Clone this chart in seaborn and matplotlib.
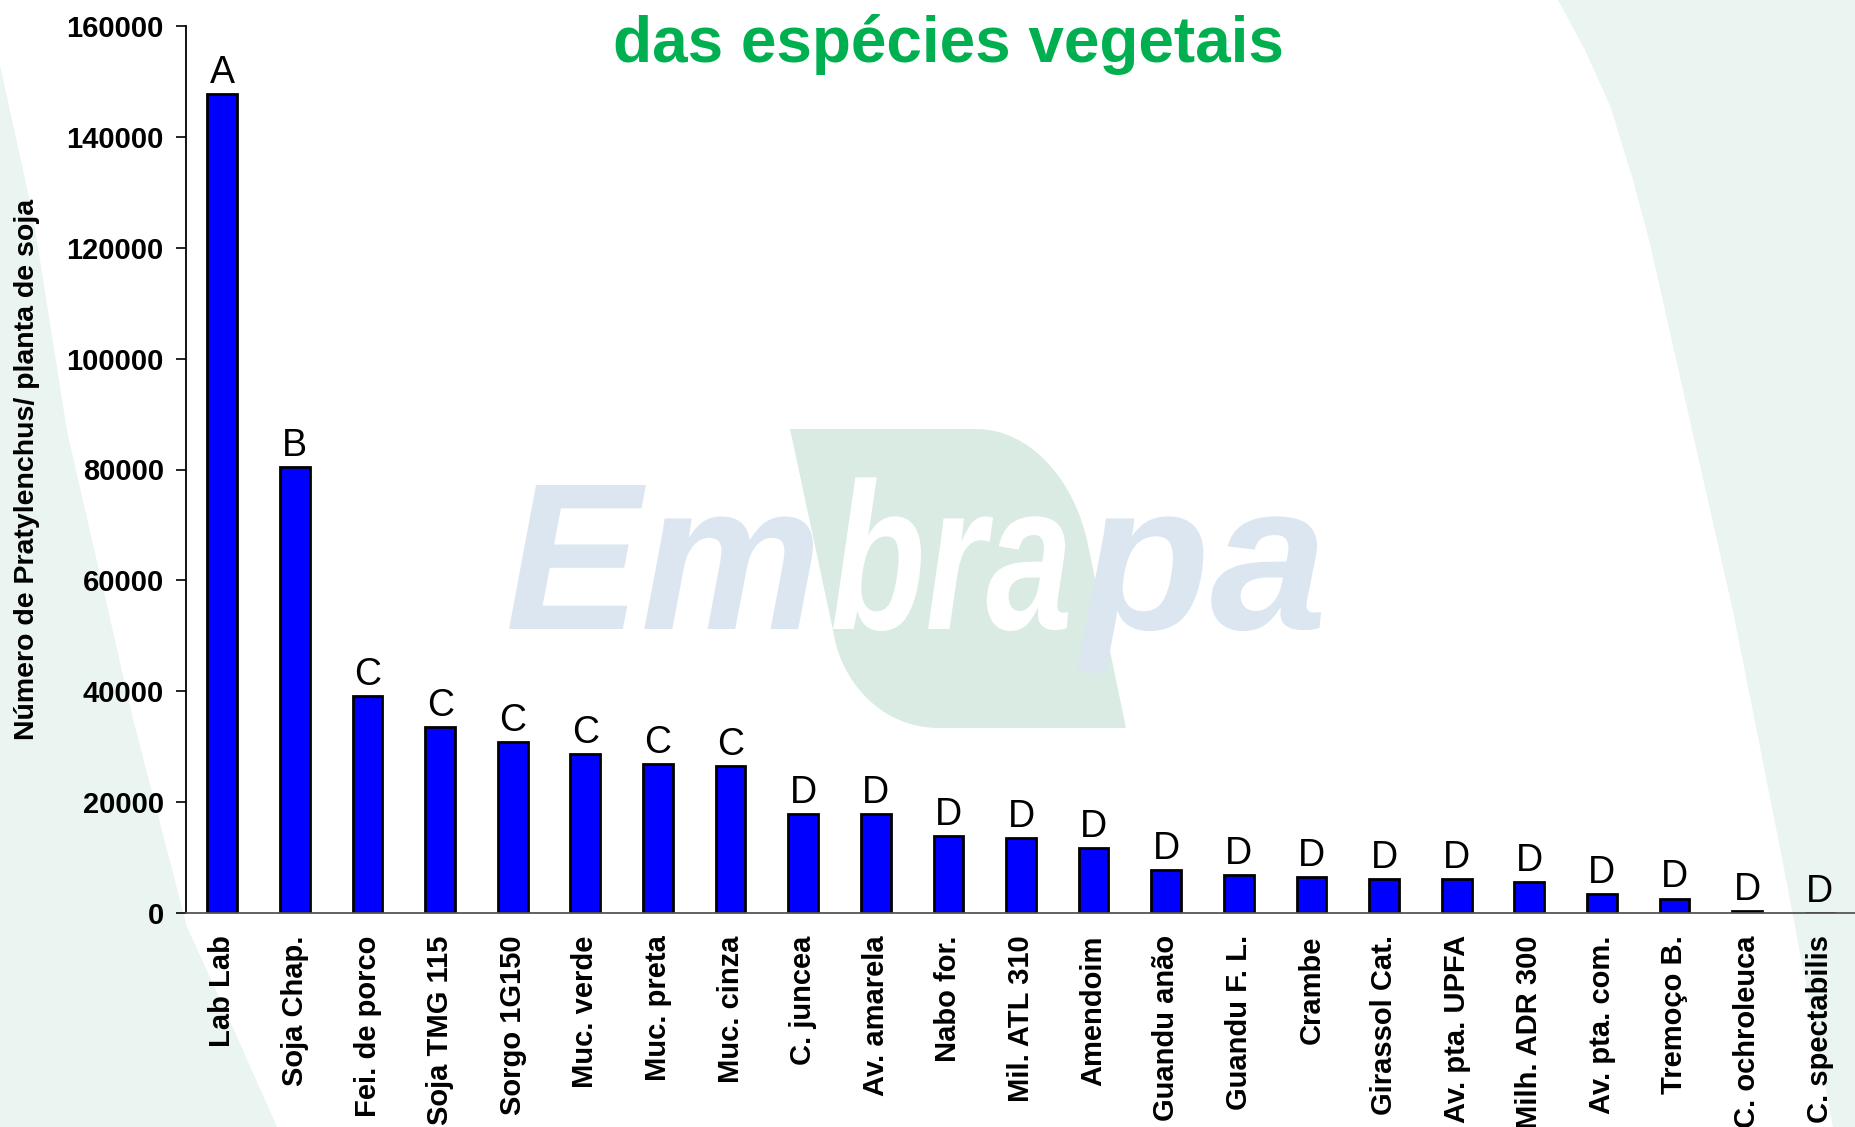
import numpy as np
import matplotlib
matplotlib.use("Agg")
import matplotlib.pyplot as plt
from matplotlib.path import Path
from matplotlib.patches import PathPatch, Polygon
from matplotlib.textpath import TextPath
from matplotlib.font_manager import FontProperties
from matplotlib.transforms import Affine2D
import seaborn as sns

# data
species = ["Lab Lab", "Soja Chap.", "Fei. de porco", "Soja TMG 115", "Sorgo 1G150",
           "Muc. verde", "Muc. preta", "Muc. cinza", "C. juncea", "Av. amarela",
           "Nabo for.", "Mil. ATL 310", "Amendoim", "Guandu anão", "Guandu F. L.",
           "Crambe", "Girassol Cat.", "Av. pta. UPFA", "Milh. ADR 300", "Av. pta. com.",
           "Tremoço B.", "C. ochroleuca", "C. spectabilis"]
values = [147800, 80400, 39100, 33500, 30800, 28700, 26900, 26500, 17800, 17800,
          13900, 13500, 11700, 7800, 6900, 6500, 6100, 6100, 5600, 3400,
          2600, 400, 0]
letters = ["A", "B", "C", "C", "C", "C", "C", "C", "D", "D",
           "D", "D", "D", "D", "D", "D", "D", "D", "D", "D",
           "D", "D", "D"]
yticks = [0, 20000, 40000, 60000, 80000, 100000, 120000, 140000, 160000]

title = "das espécies vegetais"
ylabel = "Número de Pratylenchus/ planta de soja"

sns.set_style("white")
plt.rcParams['font.family'] = ['Liberation Sans', 'DejaVu Sans']
plt.rcParams.update({"text.color": "black", "axes.labelcolor": "black",
                     "xtick.color": "black", "ytick.color": "black"})

W, H = 1856, 1127
fig = plt.figure(figsize=(W / 100, H / 100), dpi=100, facecolor="white")

# background decoration, drawn in pixel coordinates (y down)
bg = fig.add_axes([0, 0, 1, 1], zorder=0)
bg.set_xlim(0, W)
bg.set_ylim(H, 0)
bg.axis("off")

pale = "#EAF4F0"
left_edge = [(0, 65), (33, 216), (67, 431), (133, 719), (187, 927), (233, 1028), (277, 1127), (0, 1127)]
right_edge = [(1558, 0), (1585, 50), (1611, 108), (1633, 180), (1650, 244), (1733, 611),
              (1783, 863), (1833, 1127), (W, H), (W, 0)]
bg.add_patch(Polygon(left_edge, closed=True, fc=pale, ec="none"))
bg.add_patch(Polygon(right_edge, closed=True, fc=pale, ec="none"))

# Embrapa watermark
logo = Path([(790, 429), (976, 429), (1030, 429), (1075, 480), (1088, 545),
             (1126, 728), (939, 728), (880, 728), (840, 680), (833, 630), (790, 429)],
            [Path.MOVETO, Path.LINETO, Path.CURVE4, Path.CURVE4, Path.CURVE4,
             Path.LINETO, Path.LINETO, Path.CURVE4, Path.CURVE4, Path.CURVE4, Path.CLOSEPOLY])
bg.add_patch(PathPatch(logo, fc="#DAEBE3", ec="none"))

fp = FontProperties(family="Liberation Sans", weight="bold", style="italic")
cap_h = TextPath((0, 0), "E", size=1, prop=fp).get_extents().y1
sy = 144 / cap_h
for word, x_left, x_right, col in [("Em", 509, 813, "#DCE6F1"),
                                    ("bra", 833, 1068, "white"),
                                    ("pa", 1077, 1321, "#DCE6F1")]:
    tp = TextPath((0, 0), word, size=1, prop=fp)
    bb = tp.get_extents()
    sx = (x_right - x_left) / bb.width
    tr = Affine2D().translate(-bb.x0, 0).scale(sx, -sy).translate(x_left, 629)
    bg.add_patch(PathPatch(tr.transform_path(tp), fc=col, ec="none"))

# main chart
ax = fig.add_axes([186 / W, 1 - 913 / H, 1 - 186 / W, (913 - 26) / H], zorder=1)
ax.set_facecolor("none")

sns.barplot(x=species, y=values, order=species, color="#0000FF", saturation=1,
            edgecolor="black", linewidth=2, width=0.41, ax=ax)

for i, (v, g) in enumerate(zip(values, letters)):
    ax.annotate(g, (i, v), xytext=(0, 8), textcoords="offset points",
                ha="center", va="baseline", fontsize=27, color="black")

ax.set_xlim(-0.5, len(species) - 0.5)
ax.set_ylim(0, 160000)
ax.set_yticks(yticks)
ax.set_yticklabels([str(t) for t in yticks], fontsize=21, fontweight="bold")
ax.set_xticks(range(len(species)))
ax.set_xticklabels(species, rotation=90, fontsize=21, fontweight="bold", va="top")
ax.set_xticks(np.arange(-0.5, len(species), 1), minor=True)
ax.tick_params(axis="x", which="major", length=0, pad=16)
ax.tick_params(axis="x", which="minor", length=7, width=1.2, color="#555555", direction="out")
ax.tick_params(axis="y", length=7, width=1.2, color="black", direction="out", pad=9, left=True)
ax.set_xlabel("")
ax.set_ylabel(ylabel, fontsize=20.5, fontweight="bold")
ax.yaxis.set_label_coords(-146 / (W - 186), 0.5)

for s in ["top", "right"]:
    ax.spines[s].set_visible(False)
ax.spines["left"].set_color("black")
ax.spines["left"].set_linewidth(1.3)
ax.spines["bottom"].set_color("#555555")
ax.spines["bottom"].set_linewidth(1.3)

fig.text(948 / W, 1 - 62 / H, title, ha="center", va="baseline",
         fontsize=46, fontweight="bold", color="#00B050")

fig.savefig("out.png", dpi=100, facecolor="white")
